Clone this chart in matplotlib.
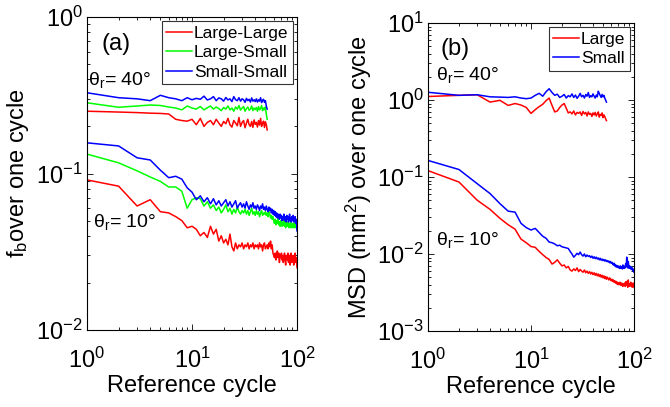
import matplotlib
matplotlib.use("Agg")
import matplotlib.pyplot as plt
import numpy as np
from matplotlib.ticker import LogLocator, LogFormatterMathtext, NullFormatter

plt.rcParams['font.family'] = ['Liberation Sans', 'DejaVu Sans']
plt.rcParams['mathtext.fontset'] = 'custom'
plt.rcParams['mathtext.rm'] = 'Liberation Sans'
plt.rcParams['mathtext.it'] = 'Liberation Sans:italic'

# ---------------- data: panel (a) f_b -----------------
ll_10 = [0.091, 0.083, 0.062, 0.068, 0.057, 0.056, 0.053, 0.050, 0.045, 0.046,
         0.044, 0.040, 0.042, 0.039, 0.046, 0.041, 0.044, 0.037, 0.040, 0.036,
         0.038, 0.035, 0.041, 0.034, 0.032, 0.036, 0.033, 0.035, 0.034, 0.036,
         0.033, 0.035, 0.034, 0.036, 0.033, 0.035, 0.034, 0.036, 0.033, 0.035,
         0.034, 0.035, 0.033, 0.036, 0.034, 0.035, 0.032, 0.035, 0.036, 0.033,
         0.034, 0.035, 0.033, 0.036, 0.034, 0.037, 0.033, 0.035, 0.031, 0.030,
         0.029, 0.031, 0.028, 0.030, 0.032, 0.029, 0.031, 0.027, 0.030, 0.029,
         0.031, 0.028, 0.030, 0.027, 0.029, 0.031, 0.028, 0.026, 0.030, 0.029,
         0.028, 0.031, 0.027, 0.029, 0.030, 0.026, 0.028, 0.031, 0.027, 0.029,
         0.028, 0.030, 0.026, 0.029, 0.028, 0.031, 0.027, 0.029, 0.028, 0.025]
ls_10 = [0.133, 0.117, 0.104, 0.095, 0.089, 0.082, 0.082, 0.077, 0.060, 0.068,
         0.070, 0.069, 0.062, 0.066, 0.060, 0.063, 0.058, 0.061, 0.056, 0.059,
         0.063, 0.057, 0.060, 0.055, 0.059, 0.056, 0.061, 0.057, 0.055, 0.058,
         0.056, 0.059, 0.055, 0.058, 0.054, 0.057, 0.060, 0.055, 0.057, 0.054,
         0.058, 0.055, 0.057, 0.053, 0.056, 0.058, 0.054, 0.056, 0.055, 0.057,
         0.054, 0.056, 0.053, 0.057, 0.055, 0.052, 0.054, 0.051, 0.053, 0.050,
         0.048, 0.051, 0.047, 0.050, 0.048, 0.052, 0.047, 0.049, 0.046, 0.050,
         0.048, 0.046, 0.049, 0.047, 0.050, 0.046, 0.048, 0.045, 0.049, 0.047,
         0.046, 0.049, 0.047, 0.045, 0.048, 0.046, 0.049, 0.045, 0.047, 0.046,
         0.048, 0.045, 0.047, 0.046, 0.049, 0.045, 0.047, 0.046, 0.048, 0.044]
ss_10 = [0.157, 0.150, 0.126, 0.122, 0.105, 0.094, 0.096, 0.092, 0.081, 0.076,
         0.068, 0.072, 0.066, 0.070, 0.064, 0.069, 0.063, 0.067, 0.062, 0.065,
         0.068, 0.062, 0.066, 0.061, 0.064, 0.067, 0.060, 0.063, 0.065, 0.061,
         0.064, 0.060, 0.066, 0.062, 0.059, 0.063, 0.061, 0.065, 0.060, 0.062,
         0.059, 0.063, 0.061, 0.058, 0.062, 0.060, 0.064, 0.059, 0.061, 0.058,
         0.062, 0.059, 0.057, 0.061, 0.058, 0.060, 0.056, 0.059, 0.055, 0.058,
         0.054, 0.057, 0.053, 0.056, 0.052, 0.055, 0.053, 0.051, 0.055, 0.052,
         0.054, 0.050, 0.053, 0.051, 0.055, 0.050, 0.053, 0.052, 0.049, 0.054,
         0.051, 0.053, 0.049, 0.052, 0.055, 0.050, 0.052, 0.049, 0.053, 0.051,
         0.050, 0.054, 0.049, 0.052, 0.050, 0.053, 0.048, 0.051, 0.050, 0.043]
ll_40 = [0.250, 0.247, 0.245, 0.243, 0.242, 0.240, 0.222, 0.218, 0.216, 0.222,
         0.205, 0.225, 0.200, 0.212, 0.218, 0.205, 0.222, 0.210, 0.200, 0.215,
         0.208, 0.225, 0.205, 0.198, 0.218, 0.210, 0.202, 0.228, 0.200, 0.212,
         0.218, 0.196, 0.210, 0.222, 0.205, 0.200, 0.215, 0.197, 0.220, 0.206,
         0.212, 0.198, 0.218, 0.204, 0.225, 0.200, 0.210, 0.216, 0.197, 0.214,
         0.205, 0.190]
ls_40 = [0.283, 0.265, 0.270, 0.274, 0.272, 0.266, 0.262, 0.255, 0.270, 0.262,
         0.258, 0.268, 0.255, 0.263, 0.270, 0.258, 0.266, 0.260, 0.252, 0.264,
         0.258, 0.270, 0.255, 0.262, 0.250, 0.266, 0.258, 0.272, 0.254, 0.262,
         0.268, 0.250, 0.260, 0.266, 0.254, 0.258, 0.270, 0.252, 0.262, 0.256,
         0.264, 0.250, 0.268, 0.255, 0.260, 0.272, 0.252, 0.262, 0.256, 0.266,
         0.240, 0.222]
ss_40 = [0.328, 0.305, 0.300, 0.292, 0.316, 0.305, 0.300, 0.292, 0.305, 0.296,
         0.302, 0.298, 0.312, 0.295, 0.300, 0.310, 0.292, 0.304, 0.300, 0.290,
         0.306, 0.295, 0.300, 0.288, 0.310, 0.296, 0.292, 0.305, 0.290, 0.300,
         0.296, 0.285, 0.302, 0.292, 0.298, 0.286, 0.304, 0.290, 0.296, 0.288,
         0.300, 0.286, 0.296, 0.290, 0.305, 0.284, 0.294, 0.298, 0.285, 0.292,
         0.270, 0.258]

# ---------------- data: panel (b) MSD -----------------
large_10 = [0.121, 0.086, 0.050, 0.038, 0.029, 0.024, 0.021, 0.0156, 0.0140, 0.0125,
            0.0122, 0.0108, 0.0098, 0.0090, 0.0085, 0.0074, 0.0078, 0.0084, 0.0076, 0.0070,
            0.0072, 0.0066, 0.0069, 0.0062, 0.0060, 0.0064, 0.0061, 0.0066, 0.0059, 0.0063,
            0.0060, 0.0058, 0.0062, 0.0057, 0.0060, 0.0056, 0.0059, 0.0055, 0.0058, 0.0054,
            0.0057, 0.0053, 0.0056, 0.0052, 0.0055, 0.0051, 0.0054, 0.0050, 0.0053, 0.0049,
            0.0052, 0.0048, 0.0051, 0.0047, 0.0050, 0.0048, 0.0046, 0.0049, 0.0047, 0.0045,
            0.0047, 0.0044, 0.0046, 0.0043, 0.0045, 0.0042, 0.0044, 0.0041, 0.0043, 0.0040,
            0.0042, 0.0040, 0.0043, 0.0041, 0.0039, 0.0042, 0.0040, 0.0038, 0.0041, 0.0039,
            0.0042, 0.0038, 0.0040, 0.0044, 0.0039, 0.0041, 0.0037, 0.0046, 0.0040, 0.0038,
            0.0041, 0.0039, 0.0043, 0.0038, 0.0040, 0.0037, 0.0039, 0.0042, 0.0038, 0.0037]
small_10 = [0.164, 0.125, 0.082, 0.061, 0.045, 0.036, 0.035, 0.025, 0.022, 0.0205,
            0.0215, 0.019, 0.017, 0.0160, 0.0143, 0.0140, 0.0135, 0.0128, 0.0130, 0.0124,
            0.0122, 0.0120, 0.0118, 0.0108, 0.0100, 0.0091, 0.0096, 0.0102, 0.0098, 0.0106,
            0.0098, 0.0094, 0.0100, 0.0092, 0.0097, 0.0093, 0.0095, 0.0090, 0.0094, 0.0088,
            0.0092, 0.0087, 0.0091, 0.0086, 0.0089, 0.0084, 0.0088, 0.0083, 0.0086, 0.0082,
            0.0085, 0.0081, 0.0084, 0.0080, 0.0082, 0.0079, 0.0081, 0.0077, 0.0080, 0.0076,
            0.0078, 0.0075, 0.0072, 0.0076, 0.0070, 0.0073, 0.0068, 0.0071, 0.0067, 0.0070,
            0.0066, 0.0069, 0.0065, 0.0070, 0.0066, 0.0068, 0.0064, 0.0072, 0.0067, 0.0065,
            0.0069, 0.0066, 0.0075, 0.0068, 0.0091, 0.0070, 0.0066, 0.0080, 0.0068, 0.0065,
            0.0070, 0.0066, 0.0064, 0.0068, 0.0063, 0.0066, 0.0061, 0.0064, 0.0060, 0.0058]
large_40 = [1.11, 1.15, 1.17, 0.94, 0.99, 0.85, 0.90, 0.86, 0.80, 0.67,
            0.75, 0.82, 0.88, 0.98, 1.06, 0.85, 0.70, 0.72, 0.80, 0.86,
            0.90, 0.78, 0.68, 0.70, 0.66, 0.72, 0.64, 0.69, 0.67, 0.70,
            0.63, 0.71, 0.66, 0.69, 0.62, 0.70, 0.65, 0.67, 0.61, 0.68,
            0.64, 0.69, 0.62, 0.66, 0.70, 0.60, 0.65, 0.63, 0.68, 0.59,
            0.64, 0.61, 0.57, 0.54]
small_40 = [1.26, 1.15, 1.17, 1.10, 1.09, 1.08, 1.10, 1.06, 1.04, 1.06,
            1.15, 1.22, 1.12, 1.28, 1.40, 1.25, 1.15, 1.19, 1.08, 1.12,
            1.18, 1.06, 1.14, 1.10, 1.20, 1.08, 1.16, 1.05, 1.12, 1.22,
            1.10, 1.15, 1.06, 1.18, 1.12, 1.25, 1.08, 1.14, 1.10, 1.20,
            1.12, 1.06, 1.16, 1.10, 1.30, 1.22, 1.14, 1.08, 1.18, 1.10,
            1.15, 1.06, 1.00, 0.94]

legend_a = ['Large-Large', 'Large-Small', 'Small-Small']
legend_b = ['Large', 'Small']
colors = ['#ff0000', '#00ff00', '#0000ff']

fig = plt.figure(figsize=(6.7, 4.07), dpi=100)
W, H = 670, 407
axa = fig.add_axes([87 / W, (H - 330) / H, 210 / W, 313 / H])
axb = fig.add_axes([428 / W, (H - 331) / H, 206 / W, 308 / H])

lw = 1.1
for ys, c, lab in zip([ll_10, ls_10, ss_10], colors, legend_a):
    axa.plot(np.arange(1, len(ys) + 1), ys, color=c, lw=lw)
lines_a = []
for ys, c, lab in zip([ll_40, ls_40, ss_40], colors, legend_a):
    l, = axa.plot(np.arange(1, len(ys) + 1), ys, color=c, lw=lw, label=lab)
    lines_a.append(l)

for ys, c in zip([large_10, small_10], [colors[0], colors[2]]):
    axb.plot(np.arange(1, len(ys) + 1), ys, color=c, lw=lw)
lines_b = []
for ys, c, lab in zip([large_40, small_40], [colors[0], colors[2]], legend_b):
    l, = axb.plot(np.arange(1, len(ys) + 1), ys, color=c, lw=lw, label=lab)
    lines_b.append(l)

for ax, ylim in [(axa, (1e-2, 1e0)), (axb, (1e-3, 1e1))]:
    ax.set_xscale('log')
    ax.set_yscale('log')
    ax.set_xlim(1, 100)
    ax.set_ylim(*ylim)
    ax.xaxis.set_major_locator(LogLocator(base=10, numticks=10))
    ax.yaxis.set_major_locator(LogLocator(base=10, numticks=10))
    ax.xaxis.set_minor_locator(LogLocator(base=10, subs=np.arange(2, 10), numticks=10))
    ax.yaxis.set_minor_locator(LogLocator(base=10, subs=np.arange(2, 10), numticks=10))
    ax.xaxis.set_major_formatter(LogFormatterMathtext())
    ax.yaxis.set_major_formatter(LogFormatterMathtext())
    ax.xaxis.set_minor_formatter(NullFormatter())
    ax.yaxis.set_minor_formatter(NullFormatter())
    ax.tick_params(which='both', direction='in', top=True, right=True, width=0.6)
    ax.tick_params(which='major', length=4, labelsize=17, pad=3)
    ax.tick_params(which='minor', length=2)
    ax.tick_params(axis='x', which='major', pad=13)
    for s in ax.spines.values():
        s.set_linewidth(0.8)
    ax.set_xlabel('Reference cycle', fontsize=17, labelpad=1)

axa.set_ylabel(r'f$_\mathregular{b}$over one cycle', fontsize=17, labelpad=4)
axb.set_ylabel(r'MSD (mm$^\mathregular{2}$) over one cycle', fontsize=17, labelpad=2)

axa.text(0.07, 0.95, '(a)', transform=axa.transAxes, fontsize=17, va='top', ha='left')
axb.text(0.06, 0.95, '(b)', transform=axb.transAxes, fontsize=17, va='top', ha='left')
axa.text(0.005, 0.80, r'$\mathregular{\theta_r}$= 40°', transform=axa.transAxes, fontsize=14, va='center')
axa.text(0.03, 0.345, r'$\mathregular{\theta_r}$= 10°', transform=axa.transAxes, fontsize=14, va='center')
axb.text(0.04, 0.83, r'$\mathregular{\theta_r}$= 40°', transform=axb.transAxes, fontsize=14, va='center')
axb.text(0.04, 0.295, r'$\mathregular{\theta_r}$= 10°', transform=axb.transAxes, fontsize=14, va='center')

for ax, lines in [(axa, lines_a), (axb, lines_b)]:
    leg = ax.legend(handles=lines, loc='upper right', fontsize=12.5, frameon=True,
                    fancybox=False, handlelength=1.5, handletextpad=0.1,
                    borderpad=0.25, labelspacing=0.25, borderaxespad=0.25)
    leg.get_frame().set_edgecolor('black')
    leg.get_frame().set_linewidth(0.8)

fig.savefig('out.png', dpi=100)
